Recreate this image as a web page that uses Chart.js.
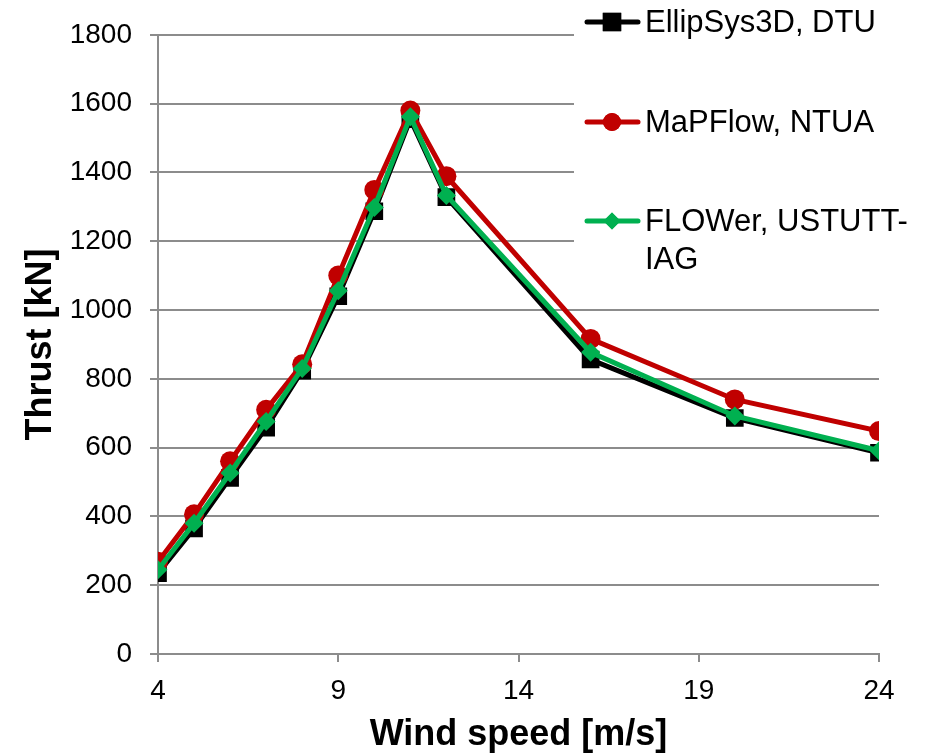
<!DOCTYPE html>
<html>
<head>
<meta charset="utf-8">
<title>Thrust vs wind speed</title>
<script src="https://cdn.jsdelivr.net/npm/chart.js@4/dist/chart.umd.min.js"></script>
<style>
  html, body { margin: 0; padding: 0; background: #fff; }
  #chart { display: block; }
</style>
</head>
<body>
<canvas id="chart" width="932" height="755"></canvas>
<script>
  // values
  const windSpeed = [4, 5, 6, 7, 8, 9, 10, 11, 12, 16, 20, 24];
  const ellipSys = [235, 365, 512, 658, 824, 1040, 1287, 1555, 1328, 856, 686, 585];
  const mapFlow = [268, 406, 560, 710, 842, 1100, 1349, 1580, 1389, 916, 740, 648];
  const flower = [245, 380, 526, 676, 830, 1056, 1298, 1562, 1333, 877, 692, 591];

  const seriesNames = ["EllipSys3D, DTU", "MaPFlow, NTUA", ["FLOWer, USTUTT-", "IAG"]];
  const seriesColors = ["#000000", "#c00000", "#00b050"];
  const xTicks = [4, 9, 14, 19, 24];

  const GRID = "#8c8c8c";
  const FONT = "'Liberation Sans', Arial, sans-serif";

  const toPoints = vals => vals.map((v, i) => ({ x: windSpeed[i], y: v }));

  // legend drawn by hand: white box over the top right of the plot, wrapped label
  const boxLegend = {
    id: "boxLegend",
    afterDraw(chart) {
      const ctx = chart.ctx;
      ctx.save();
      ctx.fillStyle = "#fff";
      ctx.fillRect(574, 0, 358, 282);
      const rows = [22, 122, 221];
      const styles = ["rect", "circle", "rectRot"];
      rows.forEach((y, i) => {
        ctx.strokeStyle = seriesColors[i];
        ctx.lineWidth = 5;
        ctx.lineCap = "round";
        ctx.beginPath();
        ctx.moveTo(587, y);
        ctx.lineTo(638, y);
        ctx.stroke();
        ctx.fillStyle = seriesColors[i];
        const r = i === 0 ? 13 : (i === 1 ? 9 : 8.5);
        Chart.helpers.drawPoint(ctx, { pointStyle: styles[i], radius: r, borderWidth: 0, rotation: 0 }, 612, y);
        ctx.fill();
        ctx.fillStyle = "#000";
        ctx.font = "31px " + FONT;
        ctx.textBaseline = "middle";
        ctx.textAlign = "left";
        const lines = Array.isArray(seriesNames[i]) ? seriesNames[i] : [seriesNames[i]];
        lines.forEach((t, k) => ctx.fillText(t, 645, y + 1 + k * 38));
      });
      ctx.restore();
    }
  };

  new Chart(document.getElementById("chart"), {
    type: "line",
    data: {
      datasets: [
        {
          label: "EllipSys3D, DTU",
          data: toPoints(ellipSys),
          borderColor: seriesColors[0],
          backgroundColor: seriesColors[0],
          borderWidth: 5,
          pointStyle: "rect",
          pointRadius: 12.5,
          pointBorderWidth: 0,
          order: 2
        },
        {
          label: "MaPFlow, NTUA",
          data: toPoints(mapFlow),
          borderColor: seriesColors[1],
          backgroundColor: seriesColors[1],
          borderWidth: 5,
          pointStyle: "circle",
          pointRadius: 10,
          pointBorderWidth: 0,
          order: 1
        },
        {
          label: "FLOWer, USTUTT-IAG",
          data: toPoints(flower),
          borderColor: seriesColors[2],
          backgroundColor: seriesColors[2],
          borderWidth: 5,
          pointStyle: "rectRot",
          pointRadius: 9.5,
          pointBorderWidth: 0,
          order: 0
        }
      ]
    },
    options: {
      responsive: false,
      animation: false,
      devicePixelRatio: 1,
      layout: { padding: { top: 28, right: 53, left: 0, bottom: 0 } },
      plugins: {
        legend: { display: false },
        tooltip: { enabled: false }
      },
      scales: {
        x: {
          type: "linear",
          min: 4,
          max: 24,
          afterFit: s => { s.height = 101; },
          afterBuildTicks: s => { s.ticks = xTicks.map(v => ({ value: v })); },
          grid: { drawOnChartArea: false, drawTicks: true, tickLength: 8, color: GRID, lineWidth: 2 },
          border: { display: true, color: GRID, width: 2 },
          ticks: { color: "#000", font: { family: FONT, size: 28 }, padding: 12, maxRotation: 0, callback: v => String(v) },
          title: {
            display: true,
            text: "Wind speed [m/s]",
            color: "#000",
            font: { family: FONT, size: 36, weight: "bold", lineHeight: 1.1 },
            padding: { top: 0, bottom: 0 }
          }
        },
        y: {
          min: 0,
          max: 1800,
          afterFit: s => { s.width = 158; },
          ticks: { stepSize: 200, color: "#000", font: { family: FONT, size: 28 }, padding: 18, callback: v => String(v) },
          grid: { color: GRID, lineWidth: 2, tickLength: 8 },
          border: { display: true, color: GRID, width: 2 },
          title: {
            display: true,
            text: "Thrust [kN]",
            color: "#000",
            font: { family: FONT, size: 36, weight: "bold", lineHeight: 1.1 },
            padding: { top: 21, bottom: 0 }
          }
        }
      }
    },
    plugins: [boxLegend]
  });
</script>
</body>
</html>
